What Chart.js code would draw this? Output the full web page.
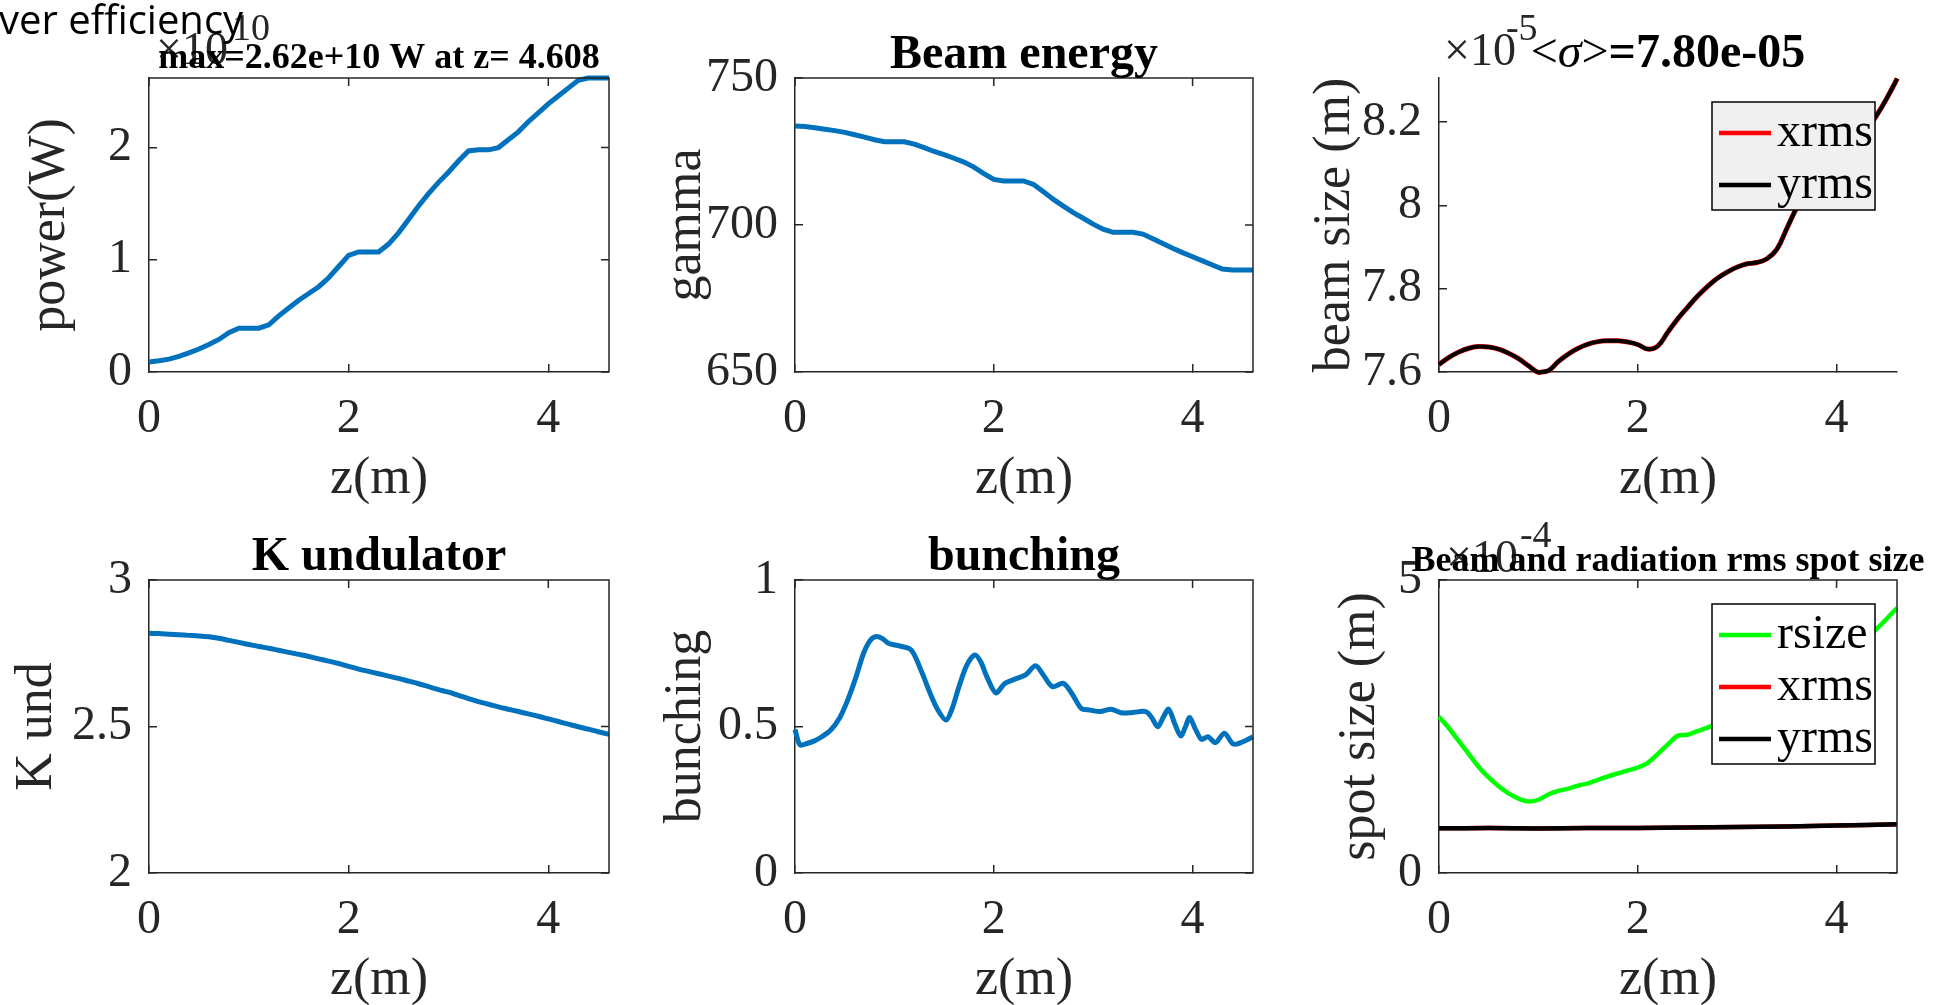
<!DOCTYPE html>
<html>
<head>
<meta charset="utf-8">
<script src="https://cdn.jsdelivr.net/npm/chart.js@4.4.1/dist/chart.umd.min.js"></script>
<style>
  html, body { margin: 0; padding: 0; background: #fff; overflow: hidden; }
  #wrap { position: relative; width: 1934px; height: 1005px; }
  #wrap canvas { position: absolute; left: 0; top: 0; }
  #note { position: absolute; left: -1px; top: -9px; font: 40px 'Open Sans', sans-serif; color: #000; white-space: nowrap; }
</style>
</head>
<body>
<div id="wrap">
  <canvas id="c1" width="1934" height="1005"></canvas>
  <canvas id="c2" width="1934" height="1005"></canvas>
  <canvas id="c3" width="1934" height="1005"></canvas>
  <canvas id="c4" width="1934" height="1005"></canvas>
  <canvas id="c5" width="1934" height="1005"></canvas>
  <canvas id="c6" width="1934" height="1005"></canvas>
  <div id="note">ver efficiency</div>
</div>
<script>
// ---- data ----
const zMax = 4.608;

const zGrid = [0, 0.1, 0.2, 0.3, 0.4, 0.5, 0.6, 0.7, 0.8, 0.9,
  1.0, 1.1, 1.2, 1.3, 1.4, 1.5, 1.6, 1.7, 1.8, 1.9,
  2.0, 2.1, 2.2, 2.3, 2.4, 2.5, 2.6, 2.7, 2.8, 2.9,
  3.0, 3.1, 3.2, 3.3, 3.4, 3.5, 3.6, 3.7, 3.8, 3.9,
  4.0, 4.1, 4.2, 4.3, 4.4, 4.5, 4.6, 4.608];

// power, units of 1e10 W
const powerE10 = [0.09, 0.10, 0.115, 0.14, 0.17, 0.205, 0.245, 0.29, 0.35, 0.39,
  0.39, 0.39, 0.42, 0.50, 0.57, 0.64, 0.70, 0.76, 0.84, 0.94,
  1.04, 1.07, 1.07, 1.07, 1.14, 1.24, 1.36, 1.48, 1.59, 1.69,
  1.78, 1.88, 1.97, 1.98, 1.98, 2.00, 2.07, 2.14, 2.23, 2.31,
  2.39, 2.46, 2.53, 2.60, 2.62, 2.62, 2.62, 2.62];

const gammaVals = [733.7, 733.5, 733.1, 732.6, 732.1, 731.5, 730.7, 729.9, 729.0, 728.3,
  728.3, 728.3, 727.5, 726.3, 725.0, 723.9, 722.7, 721.4, 719.7, 717.5,
  715.5, 715.0, 715.0, 715.0, 713.8, 711.3, 708.7, 706.4, 704.2, 702.3,
  700.3, 698.6, 697.5, 697.5, 697.5, 696.9, 695.3, 693.7, 692.1, 690.6,
  689.2, 687.8, 686.4, 685.0, 684.7, 684.7, 684.7, 684.7];

// beam size, units of 1e-5 m (xrms and yrms lie on top of each other)
const beamSizeE5 = [7.618, 7.635, 7.648, 7.657, 7.661, 7.660, 7.655, 7.645, 7.632, 7.615,
  7.599, 7.603, 7.625, 7.643, 7.657, 7.667, 7.673, 7.675, 7.675, 7.672,
  7.666, 7.655, 7.662, 7.695, 7.727, 7.755, 7.782, 7.805, 7.825, 7.840,
  7.852, 7.860, 7.863, 7.872, 7.895, 7.945, 7.995, 8.035, 8.065, 8.09,
  8.11, 8.13, 8.15, 8.18, 8.215, 8.255, 8.30, 8.305];

const kUnd = [2.818, 2.817, 2.815, 2.813, 2.811, 2.809, 2.806, 2.801, 2.794, 2.787,
  2.780, 2.773, 2.767, 2.760, 2.753, 2.746, 2.739, 2.731, 2.723, 2.715,
  2.705, 2.696, 2.688, 2.680, 2.672, 2.664, 2.655, 2.646, 2.636, 2.626,
  2.617, 2.606, 2.595, 2.585, 2.576, 2.567, 2.559, 2.551, 2.543, 2.535,
  2.526, 2.517, 2.508, 2.499, 2.491, 2.482, 2.474, 2.474];

const zBunch = [0, 0.05, 0.12, 0.19, 0.27, 0.36, 0.45, 0.53, 0.61, 0.69,
  0.76, 0.82, 0.88, 0.94, 1.05, 1.17, 1.27, 1.36, 1.44, 1.52,
  1.58, 1.65, 1.73, 1.81, 1.87, 1.93, 2.02, 2.11, 2.2, 2.32,
  2.42, 2.5, 2.59, 2.7, 2.79, 2.88, 2.97, 3.07, 3.18, 3.28,
  3.4, 3.53, 3.59, 3.65, 3.71, 3.76, 3.82, 3.88, 3.93, 3.97,
  4.03, 4.09, 4.155, 4.23, 4.32, 4.41, 4.5, 4.608];
const bunchVals = [0.49, 0.437, 0.442, 0.45, 0.465, 0.488, 0.53, 0.59, 0.665, 0.75,
  0.795, 0.807, 0.80, 0.784, 0.775, 0.761, 0.69, 0.613, 0.555, 0.522,
  0.56, 0.636, 0.71, 0.744, 0.72, 0.67, 0.615, 0.647, 0.66, 0.676,
  0.707, 0.675, 0.636, 0.647, 0.61, 0.562, 0.556, 0.551, 0.559, 0.547,
  0.548, 0.551, 0.53, 0.499, 0.535, 0.559, 0.51, 0.468, 0.5, 0.531,
  0.49, 0.456, 0.465, 0.445, 0.477, 0.44, 0.447, 0.465];

// spot sizes, units of 1e-4 m
const rsizeE4 = [2.667, 2.47, 2.25, 2.03, 1.81, 1.63, 1.48, 1.36, 1.27, 1.22,
  1.25, 1.34, 1.40, 1.44, 1.49, 1.53, 1.59, 1.65, 1.70, 1.75,
  1.80, 1.88, 2.03, 2.19, 2.34, 2.36, 2.42, 2.48, 2.55, 2.61,
  2.67, 2.75, 2.82, 2.90, 2.98, 3.06, 3.15, 3.25, 3.35, 3.47,
  3.60, 3.72, 3.85, 4.00, 4.16, 4.33, 4.51, 4.52];
const zSpot = [0, 0.5, 1, 1.5, 2, 2.5, 3, 3.5, 4, 4.608];
const yrmsSpotE4 = [0.762, 0.766, 0.76, 0.767, 0.767, 0.775, 0.785, 0.795, 0.81, 0.83];

// tick labels
const zTicks = [0, 2, 4];
const powerTicks = [0, 1, 2];
const gammaTicks = [650, 700, 750];
const beamTicks = [7.6, 7.8, 8, 8.2];
const kTicks = [2, 2.5, 3];
const bunchTicks = [0, 0.5, 1];
const spotTicks = [0, 5];

// ---- look ----
const AX = '#262626';
const BLUE = '#0072BD';
const SERIF = "'Liberation Serif', 'Times New Roman', serif";
const tickFont = { family: SERIF, size: 48, lineHeight: 1.2 };
const labelFont = { family: SERIF, size: 52, lineHeight: 1 };

const colL = [149, 795, 1439], colR = [609, 1253, 1897];
const rowT = [78, 580], rowB = [372, 873];
const Y_W = 150, X_H = 132;

Chart.defaults.font.family = SERIF;

// box, exponent, title and matlab-like legend
const panelDecor = {
  id: 'panelDecor',
  afterDraw(chart, args, opts) {
    const { ctx, chartArea: a, scales: { x, y } } = chart;
    ctx.save();

    if (opts.box) {
      ctx.strokeStyle = AX;
      ctx.lineWidth = 1.5;
      ctx.beginPath();
      ctx.moveTo(a.left, a.top);
      ctx.lineTo(a.right, a.top);
      ctx.lineTo(a.right, a.bottom);
      x.ticks.forEach(t => {
        const px = x.getPixelForValue(t.value);
        ctx.moveTo(px, a.top);
        ctx.lineTo(px, a.top + 8);
      });
      y.ticks.forEach(t => {
        const py = y.getPixelForValue(t.value);
        ctx.moveTo(a.right, py);
        ctx.lineTo(a.right - 8, py);
      });
      ctx.stroke();
    }

    if (opts.expo) {
      const e = opts.expo;
      ctx.fillStyle = AX;
      ctx.textAlign = 'left';
      ctx.textBaseline = 'alphabetic';
      ctx.font = '46px ' + SERIF;
      ctx.fillText('×10', a.left + e.dx, a.top + e.dy);
      const w = ctx.measureText('×10').width;
      ctx.font = '38px ' + SERIF;
      ctx.fillText(e.pow, a.left + e.dx + w + e.gap, a.top + e.pdy);
    }

    if (opts.title) {
      const parts = opts.title.parts;
      ctx.fillStyle = '#000';
      ctx.textAlign = 'left';
      ctx.textBaseline = 'alphabetic';
      let total = 0;
      parts.forEach(p => {
        ctx.font = p.style + ' ' + opts.title.size + 'px ' + SERIF;
        p.w = ctx.measureText(p.text).width;
        total += p.w;
      });
      let cx = (a.left + a.right) / 2 - total / 2;
      parts.forEach(p => {
        ctx.font = p.style + ' ' + opts.title.size + 'px ' + SERIF;
        ctx.fillText(p.text, cx, a.top + opts.title.dy);
        cx += p.w;
      });
    }

    if (opts.legend) {
      const sets = chart.data.datasets.filter(d => d.label);
      const w = 163, h = 4 + 52 * sets.length;
      const left = a.right - 22 - w, top = a.top + 24;
      ctx.fillStyle = opts.legend.bg;
      ctx.fillRect(left, top, w, h);
      ctx.strokeStyle = '#000';
      ctx.lineWidth = 1.5;
      ctx.strokeRect(left, top, w, h);
      ctx.font = '48px ' + SERIF;
      ctx.textAlign = 'left';
      ctx.textBaseline = 'middle';
      sets.forEach((d, i) => {
        const yy = top + 31 + 52 * i;
        ctx.strokeStyle = d.borderColor;
        ctx.lineWidth = 4.5;
        ctx.beginPath();
        ctx.moveTo(left + 7, yy);
        ctx.lineTo(left + 59, yy);
        ctx.stroke();
        ctx.fillStyle = '#000';
        ctx.fillText(d.label, left + 65, yy);
      });
    }
    ctx.restore();
  }
};

function xScale() {
  return {
    type: 'linear',
    min: 0,
    max: zMax,
    afterBuildTicks: s => { s.ticks = zTicks.map(v => ({ value: v })); },
    afterFit: s => { s.height = X_H; },
    ticks: { font: tickFont, color: AX, padding: 27, maxRotation: 0, autoSkip: false },
    grid: { drawOnChartArea: false, drawTicks: true, tickLength: -8, color: AX, lineWidth: 1.5 },
    border: { display: true, color: AX, width: 1.5 },
    title: { display: true, text: 'z(m)', font: labelFont, color: AX, padding: { top: 0, bottom: -1 } }
  };
}

function yScale(p) {
  return {
    type: 'linear',
    min: p.yMin,
    max: p.yMax,
    afterBuildTicks: s => { s.ticks = p.yTicks.map(v => ({ value: v })); },
    afterFit: s => { s.width = Y_W; },
    ticks: {
      font: tickFont, color: AX, padding: 25, autoSkip: false,
      callback: v => String(Math.round(v * 1000) / 1000)
    },
    grid: { drawOnChartArea: false, drawTicks: true, tickLength: -8, color: AX, lineWidth: 1.5 },
    border: { display: true, color: AX, width: 1.5 },
    title: { display: true, text: p.yLabel, font: labelFont, color: AX, padding: { top: p.labelPad, bottom: 0 } }
  };
}

function makeChart(p) {
  const L = colL[p.col], R = colR[p.col], T = rowT[p.row], B = rowB[p.row];
  const n = p.series.length;
  return new Chart(document.getElementById(p.id), {
    type: 'line',
    data: {
      datasets: p.series.map((s, i) => ({
        label: s.label || '',
        data: s.x.map((z, k) => ({ x: z, y: s.y[k] })),
        borderColor: s.color,
        borderWidth: s.width,
        pointRadius: 0,
        tension: s.tension || 0,
        fill: false,
        clip: false,
        order: n - 1 - i   // later series drawn on top, as in the original
      }))
    },
    options: {
      responsive: false,
      animation: false,
      devicePixelRatio: 1,
      events: [],
      layout: { padding: { left: L - Y_W, top: T, right: 1934 - R, bottom: 1005 - B - X_H } },
      plugins: {
        legend: { display: false },
        tooltip: { enabled: false },
        panelDecor: { box: p.box, expo: p.expo, title: p.title, legend: p.legend }
      },
      scales: { x: xScale(), y: yScale(p) }
    },
    plugins: [panelDecor]
  });
}

const panels = [
  {
    id: 'c1', col: 0, row: 0, box: true,
    series: [{ x: zGrid, y: powerE10, color: BLUE, width: 5 }],
    yMin: 0, yMax: 2.62, yTicks: powerTicks, yLabel: 'power(W)', labelPad: 25,
    expo: { pow: '10', dx: 7, dy: -14, pdy: -38, gap: 4 },
    title: { size: 36, dy: -10, parts: [{ text: 'max=2.62e+10 W at z= 4.608', style: 'bold' }] }
  },
  {
    id: 'c2', col: 1, row: 0, box: true,
    series: [{ x: zGrid, y: gammaVals, color: BLUE, width: 5 }],
    yMin: 650, yMax: 750, yTicks: gammaTicks, yLabel: 'gamma', labelPad: 15,
    title: { size: 48, dy: -10, parts: [{ text: 'Beam energy', style: 'bold' }] }
  },
  {
    id: 'c3', col: 2, row: 0, box: false,
    series: [
      { x: zGrid, y: beamSizeE5, color: '#FF0000', width: 5, tension: 0.4, label: 'xrms' },
      { x: zGrid, y: beamSizeE5, color: '#000000', width: 4, tension: 0.4, label: 'yrms' }
    ],
    yMin: 7.6, yMax: 8.306, yTicks: beamTicks, yLabel: 'beam size (m)', labelPad: 20,
    expo: { pow: '-5', dx: 5, dy: -13, pdy: -38, gap: -10 },
    title: {
      size: 48, dy: -11, parts: [
        { text: '<', style: 'normal' }, { text: 'σ', style: 'italic' },
        { text: '>', style: 'normal' }, { text: '=7.80e-05', style: 'bold' }
      ]
    },
    legend: { bg: '#F0F0F0' }
  },
  {
    id: 'c4', col: 0, row: 1, box: true,
    series: [{ x: zGrid, y: kUnd, color: BLUE, width: 5, tension: 0.3 }],
    yMin: 2, yMax: 3, yTicks: kTicks, yLabel: 'K und', labelPad: 12,
    title: { size: 48, dy: -10, parts: [{ text: 'K undulator', style: 'bold' }] }
  },
  {
    id: 'c5', col: 1, row: 1, box: true,
    series: [{ x: zBunch, y: bunchVals, color: BLUE, width: 5, tension: 0.3 }],
    yMin: 0, yMax: 1, yTicks: bunchTicks, yLabel: 'bunching', labelPad: 15,
    title: { size: 48, dy: -10, parts: [{ text: 'bunching', style: 'bold' }] }
  },
  {
    id: 'c6', col: 2, row: 1, box: true,
    series: [
      { x: zGrid, y: rsizeE4, color: '#00FF00', width: 4.5, tension: 0.3, label: 'rsize' },
      // xrms sits exactly under yrms
      { x: zSpot, y: yrmsSpotE4, color: '#FF0000', width: 4.5, tension: 0.3, label: 'xrms' },
      { x: zSpot, y: yrmsSpotE4, color: '#000000', width: 4.5, tension: 0.3, label: 'yrms' }
    ],
    yMin: 0, yMax: 5, yTicks: spotTicks, yLabel: 'spot size (m)', labelPad: 45,
    expo: { pow: '-4', dx: 7, dy: -8, pdy: -33, gap: 2 },
    title: { size: 36, dy: -9, parts: [{ text: 'Beam and radiation rms spot size', style: 'bold' }] },
    legend: { bg: '#FFFFFF' }
  }
];

panels.forEach(makeChart);
</script>
</body>
</html>
